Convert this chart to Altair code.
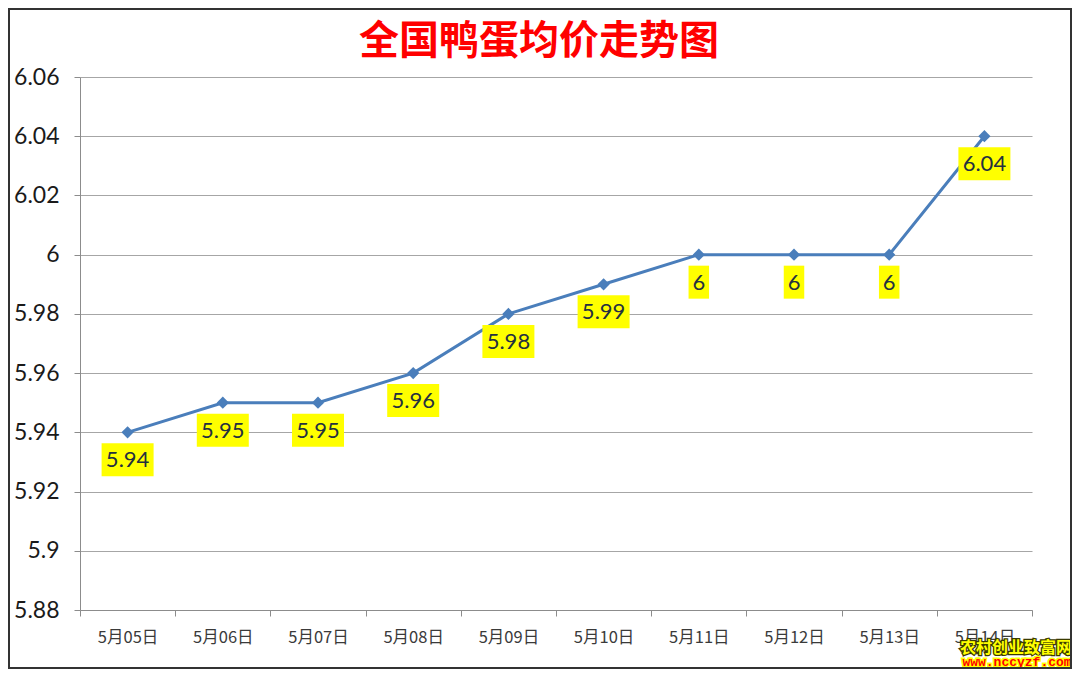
import altair as alt
import pandas as pd

dates = ["5月05日", "5月06日", "5月07日", "5月08日", "5月09日",
         "5月10日", "5月11日", "5月12日", "5月13日", "5月14日"]
prices = [5.94, 5.95, 5.95, 5.96, 5.98, 5.99, 6.00, 6.00, 6.00, 6.04]
labels = ["5.94", "5.95", "5.95", "5.96", "5.98", "5.99", "6", "6", "6", "6.04"]
y_ticks = [5.88, 5.90, 5.92, 5.94, 5.96, 5.98, 6.00, 6.02, 6.04, 6.06]
title_text = ["全国鸭蛋均价走势图"]
wm_cn = ["农村创业致富网"]
wm_url = ["www.nccyzf.com"]

df = pd.DataFrame({"date": dates, "price": prices, "label": labels})

W, H = 952, 533
PL, PT, PR, PB = 72, 69, 40, 59
LINE = "#4a7ebb"

x_enc = alt.X(
    "date:N", sort=dates,
    scale=alt.Scale(paddingInner=0, paddingOuter=0),
    axis=alt.Axis(title=None, labelAngle=0, tickBand="extent", tickSize=6,
                  tickColor="#8c8c8c", domainColor="#8c8c8c", labelPadding=13,
                  labelFont="Noto Sans CJK SC", labelFontSize=16.5, labelColor="#3a3a3a",
                  grid=False),
)
y_enc = alt.Y(
    "price:Q",
    scale=alt.Scale(domain=[5.88, 6.06], zero=False, nice=False),
    axis=alt.Axis(title=None, values=y_ticks, format="~g", tickSize=6,
                  tickColor="#8c8c8c", domainColor="#8c8c8c", labelPadding=15,
                  labelFont="Lato", labelFontSize=23, labelColor="#1a1a1a",
                  gridColor="#a6a6a6", gridWidth=1.2),
)

base = alt.Chart(df)

line = base.mark_line(color=LINE, strokeWidth=3).encode(x=x_enc, y=y_enc)
pts = base.mark_point(shape="diamond", filled=True, size=150, color=LINE, opacity=1).encode(
    x=alt.X("date:N", sort=dates), y=alt.Y("price:Q"))

boxes = base.transform_calculate(
    w="10.5 * length(datum.label) + 10"
).mark_bar(color="#ffff00", yOffset=11, y2Offset=44).encode(
    x=alt.X("date:N", sort=dates),
    y=alt.Y("price:Q"),
    y2=alt.Y2("price"),
    size=alt.Size("w:Q", scale=None, legend=None),
)
texts = base.mark_text(font="Lato", fontSize=22, color="#243040", dy=28,
                       baseline="middle", align="center").encode(
    x=alt.X("date:N", sort=dates), y=alt.Y("price:Q"), text="label:N")

title = alt.Chart(pd.DataFrame({"t": title_text})).mark_text(
    font="Noto Sans CJK SC", fontWeight="bold", fontSize=40, color="#ff0000",
    align="center", baseline="middle").encode(
    x=alt.value(459), y=alt.value(-35), text="t:N")

wm1_outline = alt.Chart(pd.DataFrame({"t": wm_cn})).mark_text(
    font="Noto Sans CJK SC", fontWeight="bold", fontSize=16, color="#ffff00",
    stroke="#3a3a00", strokeWidth=2.5, align="center", baseline="middle").encode(
    x=alt.value(936), y=alt.value(571), text="t:N")
wm1 = alt.Chart(pd.DataFrame({"t": wm_cn})).mark_text(
    font="Noto Sans CJK SC", fontWeight="bold", fontSize=16, color="#ffff00",
    align="center", baseline="middle").encode(
    x=alt.value(936), y=alt.value(571), text="t:N")
wm2_outline = alt.Chart(pd.DataFrame({"t": wm_url})).mark_text(
    font="Liberation Mono", fontWeight="bold", fontSize=13, color="#ff0000",
    stroke="#ffff00", strokeWidth=3, align="center", baseline="middle").encode(
    x=alt.value(937), y=alt.value(585), text="t:N")
wm2 = alt.Chart(pd.DataFrame({"t": wm_url})).mark_text(
    font="Liberation Mono", fontWeight="bold", fontSize=13, color="#ff0000",
    align="center", baseline="middle").encode(
    x=alt.value(937), y=alt.value(585), text="t:N")

border = alt.Chart(pd.DataFrame({"t": [1]})).mark_rect(
    filled=False, stroke="#333333", strokeWidth=2).encode(
    x=alt.value(-PL + 1), x2=alt.value(W + PR - 1),
    y=alt.value(-PT + 1), y2=alt.value(H + PB - 1))

chart = alt.layer(line, boxes, texts, pts, title, wm1_outline, wm1, wm2_outline, wm2, border).properties(
    width=W, height=H,
    autosize=alt.AutoSizeParams(type="none"),
    padding={"left": PL, "top": PT, "right": PR, "bottom": PB},
    background="white",
).configure_view(stroke=None)

chart.save("out.html", embed_options={"renderer": "svg", "actions": False})
